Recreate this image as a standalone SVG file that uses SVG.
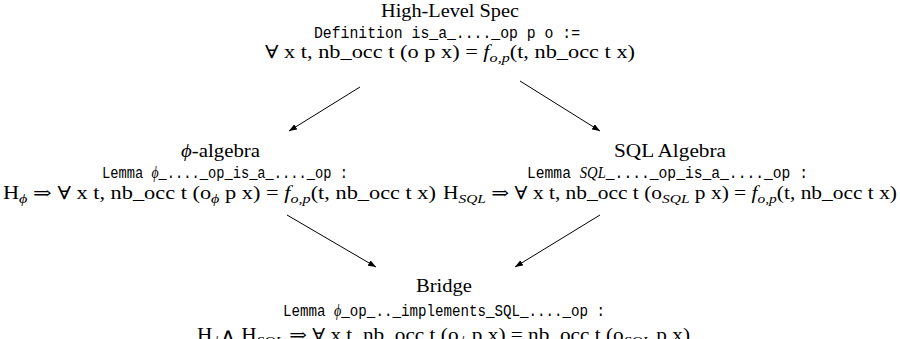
<svg xmlns="http://www.w3.org/2000/svg" width="900" height="339" viewBox="0 0 900 339">
<style>
.t{font-family:"Liberation Serif","DejaVu Serif",serif;font-size:18px;fill:#000}
.m{font-family:"Liberation Mono","DejaVu Sans Mono",monospace;font-size:16px;fill:#000}
.g{font-family:"Liberation Serif","DejaVu Serif",serif;font-size:16px;font-style:italic}
.i{font-style:italic}
.s{font-size:13px}
.edge{stroke:#000;stroke-width:1;fill:none;marker-end:url(#ah)}
</style>
<defs>
<marker id="ah" markerUnits="userSpaceOnUse" markerWidth="8" markerHeight="6" refX="8" refY="3" orient="auto">
<path d="M0,0 L8,3 L0,6 z" fill="#000"/>
</marker>
</defs>
<rect width="900" height="339" fill="#fff"/>
<g id="connectors">
<line class="edge" x1="360" y1="87" x2="289" y2="131"/>
<line class="edge" x1="520" y1="81" x2="600" y2="131"/>
<line class="edge" x1="287" y1="215" x2="376" y2="267"/>
<line class="edge" x1="600" y1="215" x2="515" y2="267"/>
</g>
<g id="spec">
<text class="t" x="381" y="17" textLength="138" lengthAdjust="spacingAndGlyphs">High-Level Spec</text>
<text class="m" x="314" y="38" textLength="266" lengthAdjust="spacingAndGlyphs">Definition is_a_...._op p o :=</text>
<text class="t" x="265" y="58" textLength="370" lengthAdjust="spacingAndGlyphs">∀ x t, nb_occ t (o p x) = <tspan class="i">f</tspan><tspan class="s i" dy="4">o,p</tspan><tspan dy="-4">(t, nb_occ t x)</tspan></text>
</g>
<g id="phi">
<text class="t" x="181" y="157" textLength="79" lengthAdjust="spacingAndGlyphs"><tspan class="i">ϕ</tspan>-algebra</text>
<text class="m" x="102" y="178" textLength="246" lengthAdjust="spacingAndGlyphs">Lemma <tspan class="g">ϕ</tspan>_...._op_is_a_...._op :</text>
<text class="t" x="3" y="199" textLength="433" lengthAdjust="spacingAndGlyphs">H<tspan class="s i" dy="4">ϕ</tspan><tspan dy="-4"> ⇒ ∀ x t, nb_occ t (o</tspan><tspan class="s i" dy="4">ϕ</tspan><tspan dy="-4"> p x) = </tspan><tspan class="i">f</tspan><tspan class="s i" dy="4">o,p</tspan><tspan dy="-4">(t, nb_occ t x)</tspan></text>
</g>
<g id="sql">
<text class="t" x="614" y="157" textLength="112" lengthAdjust="spacingAndGlyphs">SQL Algebra</text>
<text class="m" x="527" y="178" textLength="281" lengthAdjust="spacingAndGlyphs">Lemma <tspan class="g">SQL</tspan>_...._op_is_a_...._op :</text>
<text class="t" x="443" y="199" textLength="454" lengthAdjust="spacingAndGlyphs">H<tspan class="s i" dy="4">SQL</tspan><tspan dy="-4"> ⇒ ∀ x t, nb_occ t (o</tspan><tspan class="s i" dy="4">SQL</tspan><tspan dy="-4"> p x) = </tspan><tspan class="i">f</tspan><tspan class="s i" dy="4">o,p</tspan><tspan dy="-4">(t, nb_occ t x)</tspan></text>
</g>
<g id="bridge">
<text class="t" x="416" y="292" textLength="56" lengthAdjust="spacingAndGlyphs">Bridge</text>
<text class="m" x="283" y="316" textLength="322" lengthAdjust="spacingAndGlyphs">Lemma <tspan class="g">ϕ</tspan>_op_.._implements_SQL_...._op :</text>
<text class="t" x="197" y="341" textLength="493" lengthAdjust="spacingAndGlyphs">H<tspan class="s i" dy="4">ϕ</tspan><tspan dy="-4">∧ H</tspan><tspan class="s i" dy="4">SQL</tspan><tspan dy="-4"> ⇒ ∀ x t, nb_occ t (o</tspan><tspan class="s i" dy="4">ϕ</tspan><tspan dy="-4"> p x) = nb_occ t (o</tspan><tspan class="s i" dy="4">SQL</tspan><tspan dy="-4"> p x)</tspan></text>
</g>
</svg>
